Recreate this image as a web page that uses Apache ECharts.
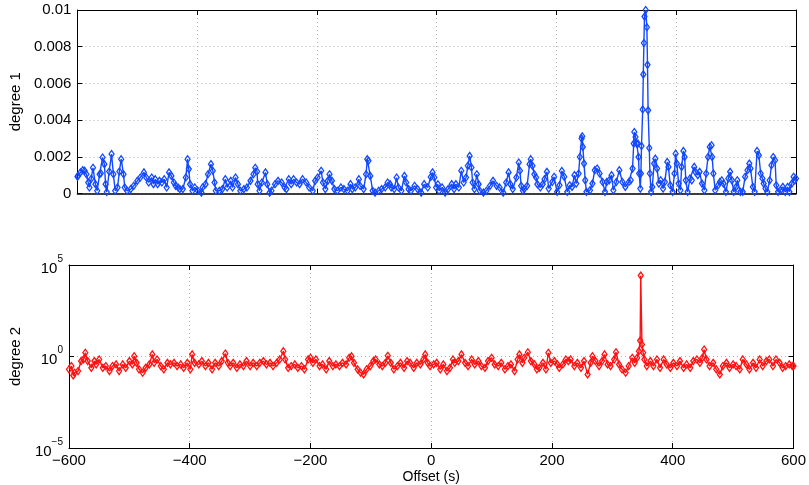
<!DOCTYPE html>
<html>
<head>
<meta charset="utf-8">
<script src="https://cdn.jsdelivr.net/npm/echarts@6/dist/echarts.min.js"></script>
<style>
html,body{margin:0;padding:0;background:#fff;}
#chart{width:809px;height:485px;}
</style>
</head>
<body>
<div id="chart"></div>
<script>
// ---- data ----
const offset1 = [
-600,-599,-595,-591,-588,-585,-582,-580,-577,-574,
-570,-567,-563,-561,-558,-555,-553,-551,-547,-543,
-540,-537,-533,-530,-527,-523,-521,-517,-511,-506,
-500,-495,-489,-485,-481,-476,-473,-470,-466,-463,
-459,-455,-451,-447,-443,-439,-436,-432,-429,-424,
-419,-416,-414,-412,-408,-404,-399,-393,-391,-386,
-382,-377,-374,-371,-369,-363,-358,-353,-350,-344,
-341,-336,-332,-328,-322,-317,-311,-306,-303,-300,
-299,-296,-292,-286,-283,-279,-276,-270,-265,-259,
-254,-251,-247,-243,-239,-234,-229,-224,-218,-213,
-207,-203,-199,-193,-190,-186,-182,-179,-175,-171,
-166,-160,-155,-149,-144,-141,-136,-130,-128,-122,
-118,-116,-114,-111,-107,-103,-97,-92,-86,-82,
-78,-76,-71,-67,-64,-59,-54,-51,-47,-43,
-37,-32,-26,-21,-15,-10,-7,-4,-1,2,
4,9,14,19,25,29,32,37,41,45,
49,52,55,58,60,63,67,70,72,78,
83,89,94,100,105,111,116,120,123,127,
133,137,139,141,144,146,151,155,157,160,
163,166,168,173,177,180,184,187,193,196,
201,205,209,213,218,222,226,230,233,237,
239,242,243,244,246,248,250,256,260,264,
268,272,277,281,284,288,292,295,300,305,
310,315,321,324,327,329,330,332,334,336,
337,338,340,341,342,344,345,346,347,349,
351,352,353,355,356,358,360,363,365,368,
371,374,378,381,385,387,390,394,397,399,
401,404,407,409,412,414,416,419,423,426,
430,432,436,439,443,447,450,453,456,459,
460,462,465,470,473,476,479,483,487,490,
493,496,500,502,507,511,515,519,522,524,
528,531,535,538,541,544,546,549,552,556,
559,562,565,567,570,574,578,582,586,589,
593,596,598,600
];
const degree1 = [
.00092,.00096,.00115,.00127,.00124,.00105,.0006,.00033,.0008,.0014,
.00051,.00015,.00105,.0011,.00196,.0016,.00051,.00008,.0012,.00215,
.00105,.00015,.00033,.0012,.00187,.00105,.00033,.00015,.00024,.00042,
.00069,.00087,.00115,.00087,.0006,.00087,.00051,.00078,.00051,.00069,
.0006,.00078,.00033,.00115,.00096,.0006,.00042,.00033,.00024,.00024,
.00087,.00187,.00133,.00051,.00015,.00033,.00015,.00005,.00033,.00051,
.00105,.0016,.00124,.0006,.00015,.00015,.00024,.00078,.00033,.00069,
.00033,.00087,.00051,.00015,.00024,.00033,.00069,.00105,.0014,.0012,
.00051,.00015,.0006,.00115,.00051,.00005,.00015,.00051,.00069,.0006,
.00033,.00024,.00078,.00051,.00078,.0006,.00051,.00078,.0006,.00033,
.00015,.00069,.00087,.00124,.0006,.00024,.00069,.00105,.00069,.00024,
.00015,.00033,.00024,.00015,.00051,.00024,.00033,.00078,.00042,.00024,
.00105,.00187,.00178,.00096,.00015,.00005,.00015,.00024,.00033,.0006,
.00051,.00033,.00024,.00087,.00033,.00015,.00096,.0006,.00024,.00015,
.00042,.00024,.00005,.00051,.00033,.0009,.00115,.00087,.00033,.0005,
.00015,.00033,.00005,.00024,.00051,.00024,.00051,.00033,.00124,.0006,
.00087,.00151,.00205,.00142,.0006,.00024,.00105,.00051,.00015,.00005,
.00015,.00042,.00069,.00042,.00033,.00005,.0006,.00115,.00051,.00024,
.00087,.00169,.00124,.00042,.00015,.00024,.00042,.0016,.00187,.00151,
.00105,.00087,.00051,.00033,.00051,.00078,.00118,.00027,.00063,.00091,
.00009,.00045,.00123,.00091,.00009,.00045,.00036,.001,.00054,.00109,
.00199,.003,.00312,.00254,.00163,.00072,.00009,.00018,.00054,.00127,
.00136,.00109,.00063,.00009,.00063,.00072,.001,.00018,.00063,.00127,
.00063,.00036,.00063,.00072,.00136,.00272,.00335,.00308,.00272,.00272,
.00199,.00109,.00027,.00109,.00259,.00458,.00649,.0082,.00964,.01,
.00906,.00701,.00453,.00248,.00109,.00009,.00036,.00163,.0019,.00136,
.00054,.00072,.00027,.00063,.00172,.00145,.00045,.00009,.00109,.00217,
.00163,.00054,.00018,.00145,.00232,.00199,.00072,.00009,.00082,.00072,
.00145,.00118,.001,.00118,.00054,.00018,.00109,.00199,.00254,.00263,
.00199,.00109,.00018,.00045,.00063,.00072,.00054,.00009,.00082,.00118,
.00072,.00009,.00036,.00072,.00009,.00009,.00091,.00127,.00163,.00136,
.00036,.00009,.00232,.00208,.00109,.00082,.00054,.00027,.00009,.00072,
.00154,.00199,.00181,.00045,.00009,.00018,.00036,.00009,.00036,.00009,
.00054,.00091,.00072,.00082
];
const offset2 = [
-600,-596,-593,-591,-585,-580,-576,-573,-569,-563,
-558,-555,-550,-544,-539,-533,-528,-522,-517,-511,
-506,-500,-495,-492,-488,-484,-478,-473,-467,-462,
-459,-454,-448,-443,-437,-432,-426,-421,-415,-410,
-404,-399,-396,-392,-385,-380,-374,-369,-363,-358,
-352,-347,-341,-337,-333,-328,-322,-317,-311,-306,
-300,-295,-289,-284,-278,-273,-267,-262,-256,-251,
-245,-242,-237,-232,-226,-221,-215,-210,-204,-200,
-196,-191,-185,-180,-174,-169,-163,-158,-152,-147,
-141,-136,-132,-128,-122,-117,-112,-107,-101,-96,
-92,-86,-81,-76,-72,-67,-62,-56,-51,-45,
-40,-35,-29,-24,-18,-13,-10,-6,-2,4,
9,15,20,26,31,36,39,45,50,56,
61,67,72,78,83,89,94,100,105,111,
116,122,127,132,138,143,146,151,154,160,
165,171,175,179,185,190,194,198,204,209,
212,218,223,227,231,237,242,248,253,259,
264,267,272,278,283,287,292,297,303,306,
311,316,322,327,333,337,341,344,346,347,
349,351,353,357,363,368,374,379,385,390,
396,401,407,412,418,423,429,434,440,445,
449,452,456,461,467,472,478,483,489,494,
500,505,511,516,522,527,533,538,544,549,
555,560,566,571,577,582,587,593,598,600
];
const degree2 = [
.2,.3,.093,.13,.16,.56,.69,1.6,.56,.24,
.56,.37,.69,.24,.3,.16,.3,.37,.16,.37,
.24,.56,.37,1.04,.45,.2,.13,.24,.37,1.3,
.45,.69,.3,.2,.45,.37,.45,.3,.37,.24,
.45,.2,1.3,.45,.37,.56,.3,.45,.2,.45,
.3,.56,1.45,.45,.3,.45,.24,.37,.3,.56,
.3,.45,.3,.45,.56,.37,.45,.3,.45,.69,
1.95,.69,.24,.3,.37,.24,.3,.2,.69,.85,
.45,.69,.3,.37,.2,.56,.3,.37,.3,.45,
.37,.85,1.04,.45,.2,.13,.105,.2,.3,.56,
.69,.37,.3,.45,1.1,.45,.2,.3,.45,.24,
.56,.45,.24,.45,.37,.69,1.3,.45,.3,.37,
.45,.2,.37,.16,.24,.69,.45,.56,1.3,.45,
.3,.69,.37,.56,.3,.24,.56,.85,.37,.3,
.45,.2,.3,.37,.16,.69,1.3,.45,.85,1.7,
.56,.37,.2,.24,.45,.2,1.6,.45,.56,.37,
.24,.37,.69,.56,.69,.3,.45,.24,.56,.105,
.45,1.04,.56,.3,.56,1.3,.37,.3,.69,1.7,
.37,.2,.13,.3,.85,.45,.85,1.95,7.4,26300,
4.5,1.6,.69,.3,.56,.3,.69,.24,.69,.37,
.24,.45,.3,.56,.24,.37,.24,.56,.69,.45,
.85,2.4,.69,.3,.45,.2,.105,.3,.45,.24,
.37,.3,.2,.69,.37,.2,.45,.24,.69,.3,
.56,.69,.3,.69,.45,.24,.3,.37,.3,.3
];
const xRange = [-600, 600], xStep = 200;
const y1Range = [0, 0.01], y1Step = 0.002;
const y2Range = [1e-5, 1e5], y2StepDecades = 5;

const pairs = (xs, ys) => xs.map((x, i) => [x, ys[i]]);
const FONT = 'Liberation Sans, Arial, Helvetica, sans-serif';
const BLUE = '#1248ff', RED = '#ff1010';
const txt = {color: '#000', fontFamily: FONT, fontSize: 15};
const fmtX = v => (v < 0 ? '\u2212' + Math.abs(v) : String(v));
const fmtLog = v => {
  const e = Math.round(Math.log10(v));
  return '{b|10}{s|' + (e < 0 ? '\u2212' + Math.abs(e) : e) + '}';
};
const axisLine = {show: true, onZero: false, lineStyle: {color: '#000', width: 1}};
const tick = {show: true, inside: true, length: 5, lineStyle: {color: '#000'}};
const split = {show: true, lineStyle: {color: '#b4b4b4', type: [1, 3], width: 1}};

function xAx(grid, pos, labels, name) {
  return {
    type: 'value', gridIndex: grid, position: pos, min: xRange[0], max: xRange[1], interval: xStep,
    axisLine: (grid === 0 && pos === 'bottom') ? {...axisLine, lineStyle: {color: '#000', width: 1.6}} : axisLine,
    axisTick: tick, splitLine: pos === 'bottom' ? split : {show: false},
    axisLabel: {show: labels, formatter: fmtX, margin: 5, ...txt},
    name: name || '', nameLocation: 'middle', nameGap: 22, nameTextStyle: {...txt, fontSize: 14}
  };
}
const chart = echarts.init(document.getElementById('chart'), null, {renderer: 'canvas'});
const markerStyle = c => ({
  symbol: 'diamond', symbolSize: [5, 7], showAllSymbol: true, sampling: null,
  lineStyle: {color: c, width: 1.4},
  itemStyle: {color: 'rgba(255,255,255,0)', borderColor: c, borderWidth: 1.3}
});
chart.setOption({
  animation: false,
  backgroundColor: '#fff',
  grid: [
    {left: 66, right: 13, top: 10, height: 183.5},
    {left: 66, right: 13, top: 265, height: 184}
  ],
  xAxis: [
    xAx(0, 'bottom', false),
    xAx(1, 'bottom', true, 'Offset (s)'),
    xAx(0, 'top', false),
    xAx(1, 'top', false)
  ],
  yAxis: [
    {type: 'value', gridIndex: 0, position: 'left', min: y1Range[0], max: y1Range[1], interval: y1Step,
     axisLine, axisTick: tick, splitLine: split,
     axisLabel: {...txt, margin: 6, formatter: v => String(+v.toFixed(3))},
     name: 'degree 1', nameLocation: 'middle', nameGap: 46, nameTextStyle: {...txt}},
    {type: 'log', logBase: 10, gridIndex: 1, position: 'left', min: y2Range[0], max: y2Range[1], interval: y2StepDecades,
     axisLine, axisTick: tick, minorTick: {show: false}, splitLine: split,
     axisLabel: {color: '#000', margin: 6, formatter: fmtLog,
       rich: {b: {fontFamily: FONT, fontSize: 15, color: '#000', lineHeight: 22, verticalAlign: 'bottom'},
              s: {fontFamily: FONT, fontSize: 10, color: '#000', lineHeight: 10, verticalAlign: 'top'}}},
     name: 'degree 2', nameLocation: 'middle', nameGap: 46, nameTextStyle: {...txt}},
    {type: 'value', gridIndex: 0, position: 'right', min: y1Range[0], max: y1Range[1], interval: y1Step,
     axisLine, axisTick: tick, splitLine: {show: false}, axisLabel: {show: false}},
    {type: 'log', logBase: 10, gridIndex: 1, position: 'right', min: y2Range[0], max: y2Range[1], interval: y2StepDecades,
     axisLine, axisTick: tick, splitLine: {show: false}, axisLabel: {show: false}}
  ],
  series: [
    {type: 'line', xAxisIndex: 0, yAxisIndex: 0, data: pairs(offset1, degree1), ...markerStyle(BLUE)},
    {type: 'line', xAxisIndex: 1, yAxisIndex: 1, data: pairs(offset2, degree2), ...markerStyle(RED)}
  ]
});
</script>
</body>
</html>
